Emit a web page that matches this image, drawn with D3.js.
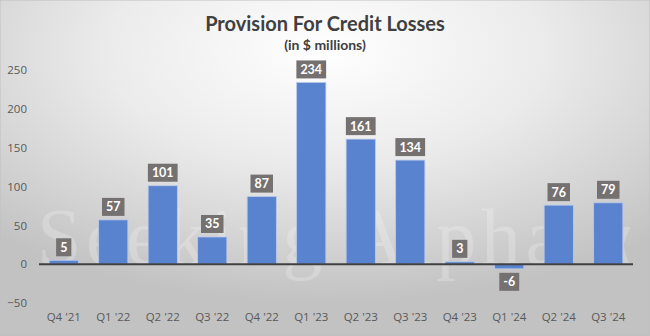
<!DOCTYPE html>
<html><head><meta charset="utf-8">
<script src="https://cdn.jsdelivr.net/npm/d3@7"></script>
<style>body{margin:0;background:#fff;}svg{display:block;}</style>
</head><body>
<svg id="chart" width="650" height="336"></svg>
<script>
const categories = ["Q4 '21","Q1 '22","Q2 '22","Q3 '22","Q4 '22","Q1 '23","Q2 '23","Q3 '23","Q4 '23","Q1 '24","Q2 '24","Q3 '24"];
const values = [5, 57, 101, 35, 87, 234, 161, 134, 3, -6, 76, 79];
const yTicks = [-50, 0, 50, 100, 150, 200, 250];
const title = "Provision For Credit Losses";
const subtitle = "(in $ millions)";

const W = 650, H = 336;
const svg = d3.select("#chart");
const defs = svg.append("defs");
const grad = defs.append("radialGradient").attr("id","bg")
  .attr("cx","50%").attr("cy","15%").attr("r","75%").attr("fx","50%").attr("fy","15%");
grad.append("stop").attr("offset","0%").attr("stop-color","#ffffff");
grad.append("stop").attr("offset","45%").attr("stop-color","#ebebeb");
grad.append("stop").attr("offset","100%").attr("stop-color","#c2c2c2");
svg.append("rect").attr("width",W).attr("height",H).attr("fill","url(#bg)")
  .attr("stroke","#bfbfbf").attr("stroke-width",1);

const x = d3.scaleBand().domain(categories).range([39, 633]).paddingInner(0.41).paddingOuter(0.205);
const y = d3.scaleLinear().domain([-50, 250]).range([303, 70]);

// watermark
svg.append("text").attr("x",37).attr("y",264)
  .attr("font-family","Liberation Serif, DejaVu Serif, serif").attr("font-size",80)
  .attr("fill","#ffffff").attr("fill-opacity",0.22)
  .attr("textLength",595).attr("lengthAdjust","spacing")
  .text("Seeking Alpha α");

// title
svg.append("text").attr("x",W/2).attr("y",31).attr("text-anchor","middle")
  .attr("font-family","Lato, 'Open Sans', sans-serif").attr("font-weight","bold")
  .attr("font-size",20).attr("fill","#404040").text(title);
svg.append("text").attr("x",W/2).attr("y",50).attr("text-anchor","middle")
  .attr("font-family","Lato, 'Open Sans', sans-serif").attr("font-weight","bold")
  .attr("font-size",14).attr("fill","#404040").text(subtitle);

// y axis
const yAxis = d3.axisLeft(y).tickValues(yTicks).tickSize(0).tickPadding(0);
const gy = svg.append("g").attr("transform","translate(27,0)").call(yAxis);
gy.select(".domain").remove();
gy.selectAll("text").attr("font-family","'Open Sans', 'Liberation Sans', sans-serif")
  .attr("font-size",11.5).attr("fill","#595959");

// x axis labels
const xAxis = d3.axisBottom(x).tickSize(0).tickPadding(0);
const gx = svg.append("g").attr("transform","translate(0,313)").call(xAxis);
gx.select(".domain").remove();
gx.selectAll("text").attr("font-family","'Open Sans', 'Liberation Sans', sans-serif")
  .attr("font-size",11.5).attr("fill","#595959");

// bars
svg.append("g").selectAll("rect").data(values).join("rect")
  .attr("x",(d,i)=>x(categories[i]))
  .attr("width",x.bandwidth())
  .attr("y",d=>y(Math.max(0,d)))
  .attr("height",d=>Math.abs(y(d)-y(0)))
  .attr("fill","#5a83cf").attr("stroke","#b9c9ea").attr("stroke-width",0.8);

// zero line
svg.append("line").attr("x1",39).attr("x2",633).attr("y1",y(0)).attr("y2",y(0))
  .attr("stroke","#404040").attr("stroke-width",2);

// data labels
const lab = svg.append("g").selectAll("g").data(values).join("g");
lab.each(function(d,i){
  const g = d3.select(this);
  const cx = x(categories[i]) + x.bandwidth()/2;
  const t = g.append("text").attr("x",cx).attr("text-anchor","middle")
    .attr("font-family","Lato, 'Open Sans', sans-serif").attr("font-weight","bold")
    .attr("font-size",12.5).attr("fill","#ffffff").text(d);
  const tw = t.node().getComputedTextLength();
  const bw = tw + 8, bh = 18;
  const by = d >= 0 ? y(d) - 4 - bh : y(d) + 4;
  g.insert("rect","text").attr("x",cx - bw/2).attr("y",by).attr("width",bw).attr("height",bh)
    .attr("fill","#767171");
  t.attr("y",by + 13.5);
});
</script>
</body></html>
